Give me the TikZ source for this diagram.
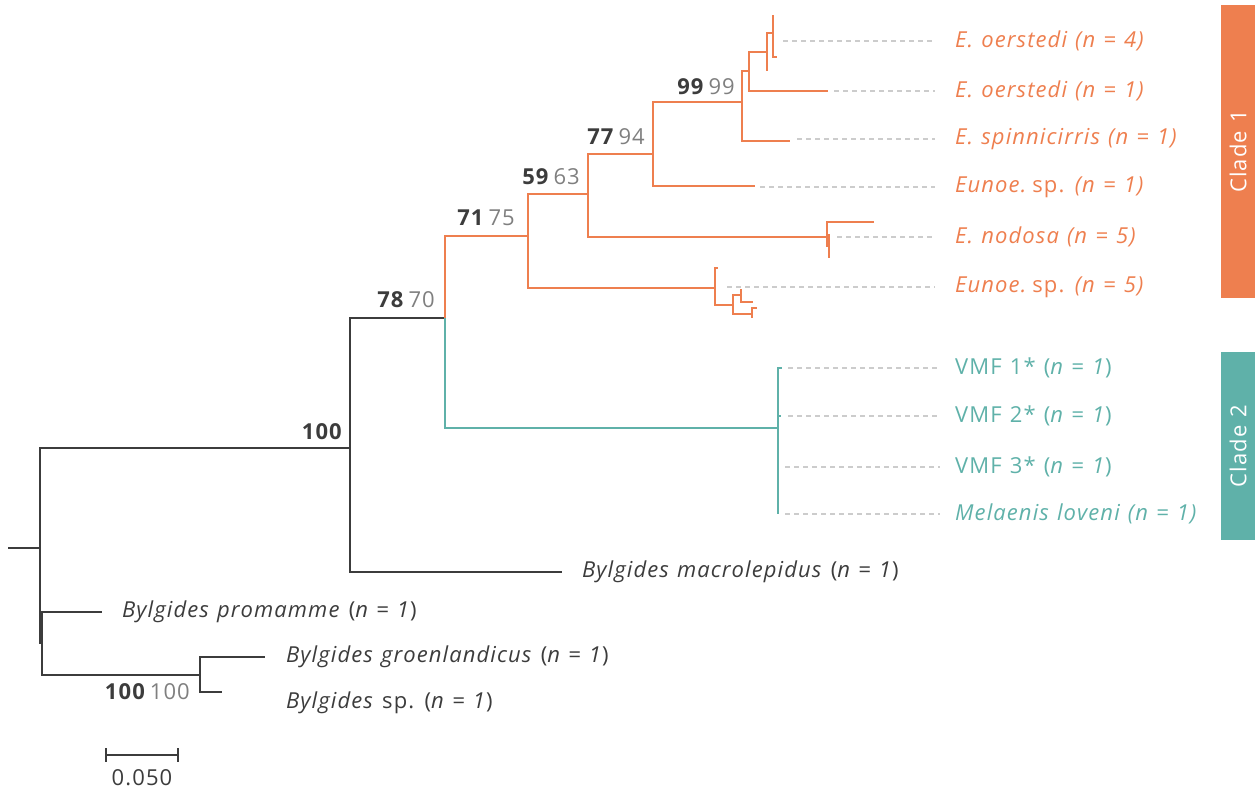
\documentclass[tikz,border=0pt]{standalone}
\usepackage{fontspec}
\setmainfont{Open Sans}[LetterSpace=5, WordSpace=1.2]
\usepackage{xcolor}
\usetikzlibrary{positioning}

\definecolor{cladeorange}{HTML}{EE7F4F}
\definecolor{cladeteal}{HTML}{5FB1A9}
\definecolor{treegrey}{HTML}{3C3C3C}
\definecolor{suppgrey}{HTML}{7F7F7F}
\definecolor{leadgrey}{HTML}{CCCCCC}

% bold bootstrap + grey second support value
\newcommand{\supp}[2]{{\bfseries #1}\hspace{5pt}{\color{suppgrey}#2}}
\newcommand{\nn}[1]{\textit{n = #1}}

\begin{document}
\begin{tikzpicture}[
    x=1pt, y=-1pt,
    branch/.style={line width=1.6pt, draw=treegrey},
    obranch/.style={line width=2.4pt, draw=cladeorange},
    tbranch/.style={line width=2.4pt, draw=cladeteal},
    leader/.style={draw=leadgrey, line width=1.5pt, dash pattern=on 5pt off 4pt},
    tip/.style={anchor=west, inner sep=0pt, font=\fontsize{22}{26}\selectfont},
    support/.style={anchor=east, inner sep=0pt, text=treegrey, font=\fontsize{22}{26}\selectfont},
    cladebox/.style={rotate=90, inner sep=0pt, minimum height=34pt, text=white, font=\fontsize{22}{26}\selectfont}
]
\useasboundingbox (0,0) rectangle (1255,792);

% Tree nodes (outgroup part)
\coordinate (rootstub) at (8,548);
\coordinate (root) at (40,548);
\coordinate (nA) at (350,448);
\coordinate (nP) at (42,643);
\coordinate (nB) at (445,318);
\coordinate (tmacro) at (562,572);
\coordinate (tprom) at (102,612);
\coordinate (nG) at (200,675);
\coordinate (tgroen) at (265,657);
\coordinate (tbsp) at (222,692);

% Clade 1
\coordinate (nC) at (528,236);
\coordinate (nD) at (588,194);
\coordinate (nE) at (715,288);
\coordinate (nF) at (653,154);
\coordinate (nN) at (827,237);
\coordinate (nH) at (742,102);
\coordinate (teun1) at (755,186);
\coordinate (nI) at (749,71);
\coordinate (tspin) at (790,141);
\coordinate (nJ) at (767,52);
\coordinate (toer1) at (828,91);
\coordinate (nK) at (773,33);
\coordinate (tJ) at (767,71);
\coordinate (tK1) at (773,15);
\coordinate (tK2) at (777,57);
\coordinate (tnod) at (874,222);
\coordinate (nN2) at (829,246);
\coordinate (tN2a) at (829,234);
\coordinate (tN2b) at (829,258);
\coordinate (tE1) at (718,268);
\coordinate (nL) at (733,305);
\coordinate (nM) at (741,295);
\coordinate (nQ) at (752,314);
\coordinate (tM1) at (741,289);
\coordinate (tM2) at (753,302);
\coordinate (tQ1) at (757,308);
\coordinate (tQ2) at (752,318);

% Clade 2
\coordinate (nT) at (778,428);
\coordinate (tV1) at (782,368);
\coordinate (tV2) at (781,416);
\coordinate (tV3) at (778,467);
\coordinate (tMel) at (778,514);

% Grey branches
\draw[branch] (rootstub) -- (root);
\draw[branch] (root) |- (nA);
\draw[branch] (root) |- (nP);
\draw[branch] (nA) |- (nB);
\draw[branch] (nA) |- (tmacro);
\draw[branch] (nP) |- (tprom);
\draw[branch] (nP) |- (nG);
\draw[branch] (nG) |- (tgroen);
\draw[branch] (nG) |- (tbsp);

% Orange branches
\draw[obranch] (nB) |- (nC);
\draw[obranch] (nC) |- (nD);
\draw[obranch] (nC) |- (nE);
\draw[obranch] (nD) |- (nF);
\draw[obranch] (nD) |- (nN);
\draw[obranch] (nF) |- (nH);
\draw[obranch] (nF) |- (teun1);
\draw[obranch] (nH) |- (nI);
\draw[obranch] (nH) |- (tspin);
\draw[obranch] (nI) |- (nJ);
\draw[obranch] (nI) |- (toer1);
\draw[obranch] (nJ) |- (nK);
\draw[obranch] (nJ) |- (tJ);
\draw[obranch] (nK) |- (tK1);
\draw[obranch] (nK) |- (tK2);
\draw[obranch] (nN) |- (tnod);
\draw[obranch] (nN) |- (nN2);
\draw[obranch] (nN2) |- (tN2a);
\draw[obranch] (nN2) |- (tN2b);
\draw[obranch] (nE) |- (tE1);
\draw[obranch] (nE) |- (nL);
\draw[obranch] (nL) |- (nM);
\draw[obranch] (nL) |- (nQ);
\draw[obranch] (nM) |- (tM1);
\draw[obranch] (nM) |- (tM2);
\draw[obranch] (nQ) |- (tQ1);
\draw[obranch] (nQ) |- (tQ2);

% Teal branches
\draw[tbranch] (nB) |- (nT);
\draw[tbranch] (nT) |- (tV1);
\draw[tbranch] (nT) |- (tV2);
\draw[tbranch] (nT) |- (tV3);
\draw[tbranch] (nT) |- (tMel);

% Tip labels
\node[tip, text=cladeorange] (loer4) at (955,41) {\textit{E. oerstedi (n = 4)}};
\node[tip, text=cladeorange] (loer1) at (955,91) {\textit{E. oerstedi (n = 1)}};
\node[tip, text=cladeorange] (lspin) at (955,139) {\textit{E. spinnicirris (n = 1)}};
\node[tip, text=cladeorange] (leun1) at (955,187) {\textit{Eunoe.}\hspace{5pt}sp. \textit{(n = 1)}};
\node[tip, text=cladeorange] (lnod) at (955,237) {\textit{E. nodosa (n = 5)}};
\node[tip, text=cladeorange] (leun5) at (955,287) {\textit{Eunoe.}\hspace{5pt}sp. \textit{(n = 5)}};
\node[tip, text=cladeteal] (lvmf1) at (955,368) {VMF 1* (\nn{1})};
\node[tip, text=cladeteal] (lvmf2) at (955,416) {VMF 2* (\nn{1})};
\node[tip, text=cladeteal] (lvmf3) at (955,467) {VMF 3* (\nn{1})};
\node[tip, text=cladeteal] (lmel) at (955,514) {\textit{Melaenis loveni (n = 1)}};
\node[tip, text=treegrey] (lmacro) at (582,572) {\textit{Bylgides macrolepidus} (\nn{1})};
\node[tip, text=treegrey] (lprom) at (122,612) {\textit{Bylgides promamme} (\nn{1})};
\node[tip, text=treegrey] (lgroen) at (286,657) {\textit{Bylgides groenlandicus} (\nn{1})};
\node[tip, text=treegrey] (lbsp) at (286,703) {\textit{Bylgides} sp. (\nn{1})};

% Dashed leaders
\coordinate (do4) at (783,41);
\coordinate (do1) at (834,91);
\coordinate (dspin) at (797,139);
\coordinate (deun1) at (760,187);
\coordinate (dnod) at (837,237);
\coordinate (deun5) at (727,287);
\coordinate (dv1) at (788,368);
\coordinate (dv2) at (788,416);
\coordinate (dv3) at (785,467);
\coordinate (dmel) at (785,514);
\draw[leader] (do4) -- ([xshift=-20pt]loer4.west);
\draw[leader] (do1) -- ([xshift=-20pt]loer1.west);
\draw[leader] (dspin) -- ([xshift=-20pt]lspin.west);
\draw[leader] (deun1) -- ([xshift=-20pt]leun1.west);
\draw[leader] (dnod) -- ([xshift=-20pt]lnod.west);
\draw[leader] (deun5) -- ([xshift=-20pt]leun5.west);
\draw[leader] (dv1) -- ([xshift=-15pt]lvmf1.west);
\draw[leader] (dv2) -- ([xshift=-15pt]lvmf2.west);
\draw[leader] (dv3) -- ([xshift=-15pt]lvmf3.west);
\draw[leader] (dmel) -- ([xshift=-15pt]lmel.west);

% Support values
\node[support] (s99) at (735,87) {\supp{99}{99}};
\node[support] (s77) at (645,137) {\supp{77}{94}};
\node[support] (s59) at (580,177) {\supp{59}{63}};
\node[support] (s71) at (515,218) {\supp{71}{75}};
\node[support] (s78) at (435,300) {\supp{78}{70}};
\node[support] (s100) at (342,432) {\bfseries 100};
\node[support] (s100b) at (190,692) {\supp{100}{100}};

% Clade bars
\node[cladebox, fill=cladeorange, minimum width=293pt] (clade1) at (1238,151.5) {Clade 1};
\node[cladebox, fill=cladeteal, minimum width=188pt] (clade2) at (1238,446) {Clade 2};

% Scale bar
\coordinate (sb0) at (106,755);
\coordinate (sb1) at (178,755);
\coordinate (sbmid) at (142,755);
\draw[branch] (sb0) -- (sb1);
\draw[branch] ([yshift=7pt]sb0) -- ([yshift=-7pt]sb0);
\draw[branch] ([yshift=7pt]sb1) -- ([yshift=-7pt]sb1);
\node[text=treegrey, font=\fontsize{22}{26}\selectfont, below=14pt of sbmid, inner sep=0pt] (sblab) {0.050};

\end{tikzpicture}
\end{document}
